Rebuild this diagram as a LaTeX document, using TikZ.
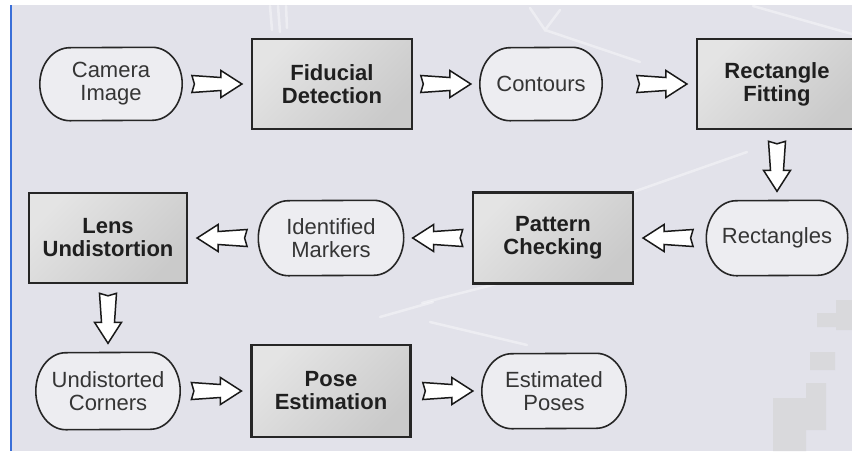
\documentclass[tikz,border=0pt]{standalone}
\usepackage{fontspec}
\setmainfont{Liberation Sans}
\usetikzlibrary{calc}
\pgfdeclarelayer{bglayer}
\pgfdeclarelayer{shapelayer}
\pgfsetlayers{bglayer,shapelayer,main}
\definecolor{bgc}{HTML}{E2E2EA}
\definecolor{bgpatch}{HTML}{D9D9DC}
\definecolor{blueline}{HTML}{3A6FD8}
\definecolor{rectlight}{HTML}{E4E4E4}
\definecolor{rectdark}{HTML}{CACACA}
\definecolor{stadfill}{HTML}{EDEDF1}
\definecolor{edgec}{HTML}{262626}
\definecolor{txtc}{HTML}{353535}
\newcommand{\blockarr}[2]{%
  \coordinate (ba-h) at ($(#2)!9pt!(#1)$);
  \coordinate (ba-t) at ($(ba-h)!50pt!(#1)$);
  \coordinate (ba-b) at ($(ba-h)!21pt!(#1)$);
  \coordinate (ba-n) at ($(ba-t)!2.5pt!(ba-h)$);
  \draw[barrow] ($(ba-t)!8.5pt!90:(ba-h)$) -- ($(ba-b)!6.5pt!-90:(ba-t)$)
     -- ($(ba-b)!13.5pt!-90:(ba-t)$) -- (ba-h) -- ($(ba-b)!13.5pt!90:(ba-t)$)
     -- ($(ba-b)!6.5pt!90:(ba-t)$) -- ($(ba-t)!8.5pt!-90:(ba-h)$) -- (ba-n) -- cycle;
}
% outline of a terminal (stadium) node: #1 node name, #2 half height
\newcommand{\stadoutline}[2]{%
  \begin{pgfonlayer}{shapelayer}
  \draw[stadline] ($(#1.north east)+(-30pt,0)$)
     arc[start angle=90, end angle=-90, x radius=30pt, y radius=#2]
     -- ($(#1.south west)+(30pt,0)$)
     arc[start angle=270, end angle=90, x radius=30pt, y radius=#2] -- cycle;
  \end{pgfonlayer}
}
\tikzset{
  stad/.style={rectangle, inner sep=0pt, align=center,
    font=\fontsize{22}{23}\selectfont, text=txtc},
  stadline/.style={draw=edgec, line width=1.6pt, fill=stadfill},
  procbox/.style={rectangle, draw=edgec, line width=2.2pt, top color=rectlight,
    bottom color=rectdark, shading angle=45, inner sep=0pt, align=center,
    font=\fontsize{22}{23}\selectfont\bfseries, text=black!88},
  barrow/.style={draw=black!90, line width=1.5pt, fill=white, line join=miter},
  streak/.style={white, opacity=0.4, line width=2.5pt, line cap=round}
}
\begin{document}
\begin{tikzpicture}[x=1pt, y=-1pt]
  \useasboundingbox (0,0) rectangle (852,451);
  \clip (0,0) rectangle (852,451);
  \begin{pgfonlayer}{bglayer}
  \fill[white] (0,0) rectangle (852,451);
  \fill[bgc] (11,5) rectangle (852,451);
  % faint background texture
  \draw[streak] (270,6) -- (272,30) (278,6) -- (280,32) (286,6) -- (287,28);
  \draw[streak] (530,8) -- (545,30) -- (560,10) (545,30) -- (640,62);
  \draw[streak] (753,6) -- (852,34);
  \draw[streak] (747,152) -- (633,192);
  \draw[streak] (500,283) -- (422,303);
  \draw[streak] (380,317) -- (433,302) (430,322) -- (527,345);
  \fill[bgpatch] (773,398) rectangle (806,451) (806,383) rectangle (826,430)
     (810,352) rectangle (835,370) (817,313) rectangle (836,327)
     (836,300) rectangle (852,330);
  \draw[blueline, line width=2pt] (11,5) -- (11,451);
  \end{pgfonlayer}

  % row 1
  \node[stad, minimum width=142pt, minimum height=73pt] (cam) at (111,84) {Camera\\Image};
  \node[procbox, minimum width=160pt, minimum height=90pt] (fid) at (332,84) {Fiducial\\Detection};
  \node[stad, minimum width=122pt, minimum height=73pt] (cont) at (541,84) {Contours};
  \node[procbox, minimum width=160pt, minimum height=90pt] (rfit) at (777,84) {Rectangle\\Fitting};
  % row 2
  \node[procbox, minimum width=158pt, minimum height=90pt] (lens) at (108,238) {Lens\\Undistortion};
  \node[stad, minimum width=145pt, minimum height=75pt] (idm) at (331,238) {Identified\\Markers};
  \node[procbox, minimum width=160pt, minimum height=91pt] (pat) at (553,238) {Pattern\\Checking};
  \node[stad, minimum width=141pt, minimum height=75pt] (rects) at (777,238) {Rectangles};
  % row 3
  \node[stad, minimum width=144pt, minimum height=77pt] (und) at (108,391) {Undistorted\\Corners};
  \node[procbox, minimum width=159pt, minimum height=92pt] (pose) at (331,391) {Pose\\Estimation};
  \node[stad, minimum width=144pt, minimum height=75pt] (est) at (554,391) {Estimated\\Poses};

  \stadoutline{cam}{36.5pt}
  \stadoutline{cont}{36.5pt}
  \stadoutline{idm}{37.5pt}
  \stadoutline{rects}{37.5pt}
  \stadoutline{und}{38.5pt}
  \stadoutline{est}{37.5pt}

  % connectors
  \blockarr{cam.east}{fid.west}
  \blockarr{fid.east}{cont.west}
  \blockarr{cont.east}{rfit.west}
  \blockarr{rfit.south}{rects.north}
  \blockarr{rects.west}{pat.east}
  \blockarr{pat.west}{idm.east}
  \blockarr{idm.west}{lens.east}
  \blockarr{lens.south}{und.north}
  \blockarr{und.east}{pose.west}
  \blockarr{pose.east}{est.west}
\end{tikzpicture}
\end{document}
